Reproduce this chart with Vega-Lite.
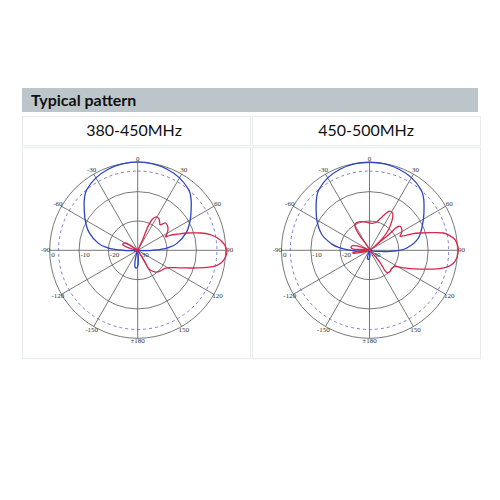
{
  "$schema": "https://vega.github.io/schema/vega-lite/v6.json",
  "padding": {"left": 21, "top": 88, "right": 0, "bottom": 0},
  "background": "white",
  "config": {"concat": {"spacing": 0}, "view": {"stroke": null}},
  "datasets": {
    "rings": [{"r": 10}, {"r": 20}, {"r": 30}],
    "dash": [{"r": 27}],
    "spokes": [
      {"x1": 0, "y1": 30, "x2": 0, "y2": -30},
      {"x1": 15, "y1": 25.98, "x2": -15, "y2": -25.98},
      {"x1": 25.98, "y1": 15, "x2": -25.98, "y2": -15},
      {"x1": 30, "y1": 0, "x2": -30, "y2": 0},
      {"x1": 25.98, "y1": -15, "x2": -25.98, "y2": 15},
      {"x1": 15, "y1": -25.98, "x2": -15, "y2": 25.98}
    ],
    "angles": [
      {"lx": 0, "ly": 31.1, "lab": "0"},
      {"lx": 15.7, "ly": 27.2, "lab": "30"},
      {"lx": 27.2, "ly": 15.7, "lab": "60"},
      {"lx": 31.4, "ly": 0, "lab": "90"},
      {"lx": 27.2, "ly": -15.7, "lab": "120"},
      {"lx": 15.7, "ly": -27.2, "lab": "150"},
      {"lx": 0, "ly": -31.0, "lab": "±180"},
      {"lx": -15.7, "ly": -27.2, "lab": "-150"},
      {"lx": -27.2, "ly": -15.7, "lab": "-120"},
      {"lx": -31.4, "ly": 0, "lab": "-90"},
      {"lx": -27.2, "ly": 15.7, "lab": "-60"},
      {"lx": -15.7, "ly": 27.2, "lab": "-30"}
    ],
    "radial": [
      {"lx": -29.5, "ly": -0.4, "lab": "0"},
      {"lx": -19.5, "ly": -0.4, "lab": "-10"},
      {"lx": -9.5, "ly": -0.4, "lab": "-20"},
      {"lx": 0.6, "ly": -0.4, "lab": "-30"}
    ],
    "left": [
      {"s": "V", "i": 1, "x": 0, "y": 0},
      {"s": "V", "i": 2, "x": -1.0, "y": -0.09},
      {"s": "V", "i": 3, "x": -3.0, "y": -0.1},
      {"s": "V", "i": 4, "x": -5.0, "y": 0},
      {"s": "V", "i": 5, "x": -7.5, "y": 0.26},
      {"s": "V", "i": 6, "x": -10.46, "y": 0.92},
      {"s": "V", "i": 7, "x": -13.39, "y": 2.36},
      {"s": "V", "i": 8, "x": -16.54, "y": 6.02},
      {"s": "V", "i": 9, "x": -17.9, "y": 10.3},
      {"s": "V", "i": 10, "x": -18.27, "y": 15.33},
      {"s": "V", "i": 11, "x": -18.1, "y": 18.1},
      {"s": "V", "i": 12, "x": -17.36, "y": 20.68},
      {"s": "V", "i": 13, "x": -14.25, "y": 24.68},
      {"s": "V", "i": 14, "x": -10.06, "y": 27.63},
      {"s": "V", "i": 15, "x": -5.19, "y": 29.45},
      {"s": "V", "i": 16, "x": 0, "y": 30.1},
      {"s": "V", "i": 17, "x": 5.19, "y": 29.45},
      {"s": "V", "i": 18, "x": 10.06, "y": 27.63},
      {"s": "V", "i": 19, "x": 14.25, "y": 24.68},
      {"s": "V", "i": 20, "x": 17.36, "y": 20.68},
      {"s": "V", "i": 21, "x": 18.1, "y": 18.1},
      {"s": "V", "i": 22, "x": 18.27, "y": 15.33},
      {"s": "V", "i": 23, "x": 17.9, "y": 10.3},
      {"s": "V", "i": 24, "x": 16.54, "y": 6.02},
      {"s": "V", "i": 25, "x": 13.39, "y": 2.36},
      {"s": "V", "i": 26, "x": 10.46, "y": 0.92},
      {"s": "V", "i": 27, "x": 7.5, "y": 0.26},
      {"s": "V", "i": 28, "x": 5.0, "y": 0},
      {"s": "V", "i": 29, "x": 3.0, "y": -0.1},
      {"s": "V", "i": 30, "x": 1.0, "y": -0.09},
      {"s": "V", "i": 31, "x": 0, "y": 0},
      {"s": "V", "i": 32, "x": 0.2, "y": -2.0},
      {"s": "V", "i": 33, "x": 0.1, "y": -5.0},
      {"s": "V", "i": 34, "x": -0.5, "y": -6.1},
      {"s": "V", "i": 35, "x": -1.0, "y": -5.0},
      {"s": "V", "i": 36, "x": -0.6, "y": -2.0},
      {"s": "V", "i": 37, "x": 0, "y": 0},
      {"s": "H", "i": 1, "x": 0, "y": 0},
      {"s": "H", "i": 2, "x": 1.7, "y": 3.6},
      {"s": "H", "i": 3, "x": 2.8, "y": 6.5},
      {"s": "H", "i": 4, "x": 4.0, "y": 9.1},
      {"s": "H", "i": 5, "x": 5.0, "y": 10.6},
      {"s": "H", "i": 6, "x": 6.25, "y": 11.4},
      {"s": "H", "i": 7, "x": 7.2, "y": 10.8},
      {"s": "H", "i": 8, "x": 7.5, "y": 9.5},
      {"s": "H", "i": 9, "x": 7.6, "y": 8.7},
      {"s": "H", "i": 10, "x": 8.5, "y": 9.0},
      {"s": "H", "i": 11, "x": 9.5, "y": 9.3},
      {"s": "H", "i": 12, "x": 10.2, "y": 8.3},
      {"s": "H", "i": 13, "x": 10.3, "y": 6.8},
      {"s": "H", "i": 14, "x": 9.8, "y": 5.2},
      {"s": "H", "i": 15, "x": 9.5, "y": 4.6},
      {"s": "H", "i": 16, "x": 11.0, "y": 5.1},
      {"s": "H", "i": 17, "x": 13.6, "y": 5.5},
      {"s": "H", "i": 18, "x": 17.0, "y": 5.9},
      {"s": "H", "i": 19, "x": 21.6, "y": 5.9},
      {"s": "H", "i": 20, "x": 24.5, "y": 5.4},
      {"s": "H", "i": 21, "x": 27.5, "y": 4.0},
      {"s": "H", "i": 22, "x": 29.5, "y": 2.0},
      {"s": "H", "i": 23, "x": 30.4, "y": 0},
      {"s": "H", "i": 24, "x": 30.0, "y": -2.2},
      {"s": "H", "i": 25, "x": 28.4, "y": -4.3},
      {"s": "H", "i": 26, "x": 25.6, "y": -5.6},
      {"s": "H", "i": 27, "x": 20.5, "y": -6.0},
      {"s": "H", "i": 28, "x": 14.8, "y": -6.0},
      {"s": "H", "i": 29, "x": 10.8, "y": -5.9},
      {"s": "H", "i": 30, "x": 9.0, "y": -6.3},
      {"s": "H", "i": 31, "x": 7.6, "y": -7.1},
      {"s": "H", "i": 32, "x": 6.0, "y": -7.4},
      {"s": "H", "i": 33, "x": 4.5, "y": -6.9},
      {"s": "H", "i": 34, "x": 3.4, "y": -5.8},
      {"s": "H", "i": 35, "x": 2.6, "y": -4.2},
      {"s": "H", "i": 36, "x": 1.6, "y": -2.4},
      {"s": "H", "i": 37, "x": 0.6, "y": -0.9},
      {"s": "H", "i": 38, "x": 0, "y": 0},
      {"s": "H", "i": 39, "x": -1.5, "y": 1.0},
      {"s": "H", "i": 40, "x": -3.5, "y": 2.3},
      {"s": "H", "i": 41, "x": -4.8, "y": 2.4},
      {"s": "H", "i": 42, "x": -5.0, "y": 1.8},
      {"s": "H", "i": 43, "x": -3.5, "y": 1.0},
      {"s": "H", "i": 44, "x": -1.5, "y": 0.3},
      {"s": "H", "i": 45, "x": 0, "y": 0},
      {"s": "H", "i": 46, "x": -1.2, "y": -0.5},
      {"s": "H", "i": 47, "x": 0, "y": 0}
    ],
    "right": [
      {"s": "V", "i": 1, "x": 0, "y": 0},
      {"s": "V", "i": 2, "x": -1.5, "y": -0.3},
      {"s": "V", "i": 3, "x": -4.0, "y": -0.35},
      {"s": "V", "i": 4, "x": -7.7, "y": 0.2},
      {"s": "V", "i": 5, "x": -10.3, "y": 0.9},
      {"s": "V", "i": 6, "x": -12.8, "y": 2.1},
      {"s": "V", "i": 7, "x": -16.2, "y": 5.3},
      {"s": "V", "i": 8, "x": -17.9, "y": 10.0},
      {"s": "V", "i": 9, "x": -18.2, "y": 15.2},
      {"s": "V", "i": 10, "x": -18.0, "y": 18.0},
      {"s": "V", "i": 11, "x": -17.3, "y": 20.6},
      {"s": "V", "i": 12, "x": -14.25, "y": 24.68},
      {"s": "V", "i": 13, "x": -10.06, "y": 27.63},
      {"s": "V", "i": 14, "x": -5.19, "y": 29.45},
      {"s": "V", "i": 15, "x": 0, "y": 30.0},
      {"s": "V", "i": 16, "x": 5.19, "y": 29.45},
      {"s": "V", "i": 17, "x": 10.1, "y": 27.63},
      {"s": "V", "i": 18, "x": 14.4, "y": 24.68},
      {"s": "V", "i": 19, "x": 17.6, "y": 20.6},
      {"s": "V", "i": 20, "x": 18.4, "y": 18.0},
      {"s": "V", "i": 21, "x": 18.6, "y": 15.2},
      {"s": "V", "i": 22, "x": 18.3, "y": 10.0},
      {"s": "V", "i": 23, "x": 16.7, "y": 4.2},
      {"s": "V", "i": 24, "x": 12.7, "y": 0.8},
      {"s": "V", "i": 25, "x": 8.2, "y": -0.3},
      {"s": "V", "i": 26, "x": 4.0, "y": -0.4},
      {"s": "V", "i": 27, "x": 1.5, "y": -0.3},
      {"s": "V", "i": 28, "x": 0, "y": 0},
      {"s": "V", "i": 29, "x": 0.2, "y": -1.5},
      {"s": "V", "i": 30, "x": -0.2, "y": -3.0},
      {"s": "V", "i": 31, "x": -0.7, "y": -2.8},
      {"s": "V", "i": 32, "x": -0.4, "y": -1.2},
      {"s": "V", "i": 33, "x": 0, "y": 0},
      {"s": "H", "i": 1, "x": 0, "y": 0},
      {"s": "H", "i": 2, "x": -3.0, "y": 1.2},
      {"s": "H", "i": 3, "x": -5.5, "y": 1.6},
      {"s": "H", "i": 4, "x": -6.3, "y": 1.0},
      {"s": "H", "i": 5, "x": -5.5, "y": 0.4},
      {"s": "H", "i": 6, "x": -3.0, "y": 0.3},
      {"s": "H", "i": 7, "x": 0, "y": 0},
      {"s": "H", "i": 8, "x": -3.0, "y": -0.3},
      {"s": "H", "i": 9, "x": -5.3, "y": -0.6},
      {"s": "H", "i": 10, "x": -5.5, "y": -1.0},
      {"s": "H", "i": 11, "x": -3.0, "y": -0.7},
      {"s": "H", "i": 12, "x": 0, "y": 0},
      {"s": "H", "i": 13, "x": -1.5, "y": 2.5},
      {"s": "H", "i": 14, "x": -3.2, "y": 4.8},
      {"s": "H", "i": 15, "x": -4.6, "y": 7.2},
      {"s": "H", "i": 16, "x": -5.0, "y": 8.6},
      {"s": "H", "i": 17, "x": -4.2, "y": 9.5},
      {"s": "H", "i": 18, "x": -2.5, "y": 9.8},
      {"s": "H", "i": 19, "x": -0.5, "y": 9.4},
      {"s": "H", "i": 20, "x": 1.0, "y": 9.2},
      {"s": "H", "i": 21, "x": 2.5, "y": 9.7},
      {"s": "H", "i": 22, "x": 4.5, "y": 11.6},
      {"s": "H", "i": 23, "x": 6.3, "y": 13.1},
      {"s": "H", "i": 24, "x": 7.4, "y": 13.2},
      {"s": "H", "i": 25, "x": 8.0, "y": 12.0},
      {"s": "H", "i": 26, "x": 7.5, "y": 9.5},
      {"s": "H", "i": 27, "x": 6.2, "y": 6.5},
      {"s": "H", "i": 28, "x": 4.2, "y": 3.8},
      {"s": "H", "i": 29, "x": 2.0, "y": 1.6},
      {"s": "H", "i": 30, "x": 0.5, "y": 0.3},
      {"s": "H", "i": 31, "x": 3.5, "y": 2.8},
      {"s": "H", "i": 32, "x": 6.5, "y": 5.3},
      {"s": "H", "i": 33, "x": 8.5, "y": 7.2},
      {"s": "H", "i": 34, "x": 10.0, "y": 8.2},
      {"s": "H", "i": 35, "x": 10.9, "y": 7.6},
      {"s": "H", "i": 36, "x": 11.0, "y": 6.0},
      {"s": "H", "i": 37, "x": 10.4, "y": 4.8},
      {"s": "H", "i": 38, "x": 12.0, "y": 5.0},
      {"s": "H", "i": 39, "x": 14.5, "y": 5.6},
      {"s": "H", "i": 40, "x": 17.3, "y": 5.9},
      {"s": "H", "i": 41, "x": 21.0, "y": 6.0},
      {"s": "H", "i": 42, "x": 25.2, "y": 5.9},
      {"s": "H", "i": 43, "x": 27.5, "y": 4.9},
      {"s": "H", "i": 44, "x": 29.2, "y": 3.6},
      {"s": "H", "i": 45, "x": 30.1, "y": 1.5},
      {"s": "H", "i": 46, "x": 30.3, "y": 0},
      {"s": "H", "i": 47, "x": 29.8, "y": -2.5},
      {"s": "H", "i": 48, "x": 28.5, "y": -4.5},
      {"s": "H", "i": 49, "x": 26.4, "y": -5.7},
      {"s": "H", "i": 50, "x": 23.0, "y": -6.3},
      {"s": "H", "i": 51, "x": 19.5, "y": -6.4},
      {"s": "H", "i": 52, "x": 15.0, "y": -6.3},
      {"s": "H", "i": 53, "x": 11.6, "y": -6.0},
      {"s": "H", "i": 54, "x": 8.8, "y": -5.5},
      {"s": "H", "i": 55, "x": 7.5, "y": -6.2},
      {"s": "H", "i": 56, "x": 7.0, "y": -7.2},
      {"s": "H", "i": 57, "x": 6.0, "y": -7.6},
      {"s": "H", "i": 58, "x": 5.2, "y": -6.8},
      {"s": "H", "i": 59, "x": 4.0, "y": -4.8},
      {"s": "H", "i": 60, "x": 2.5, "y": -2.7},
      {"s": "H", "i": 61, "x": 1.0, "y": -1.0},
      {"s": "H", "i": 62, "x": 0, "y": 0}
    ]
  },
  "vconcat": [
    {
      "width": 456,
      "height": 24,
      "view": {"fill": "#bcc6ca", "stroke": null},
      "data": {"values": [{"t": "Typical pattern"}]},
      "mark": {"type": "text", "align": "left", "baseline": "middle", "dx": 9, "dy": 1, "font": "Lato", "fontWeight": "bold", "fontSize": 16, "color": "#111"},
      "encoding": {
        "text": {"field": "t"},
        "x": {"field": "t", "type": "nominal", "axis": null, "scale": {"type": "point", "padding": 0, "align": 0}}
      }
    },
    {
      "vconcat": [
        {
          "hconcat": [
            {
              "width": 228, "height": 29,
              "view": {"stroke": "#d3d8da", "strokeDash": [1, 1]},
              "data": {"values": [{"t": "380-450MHz"}]},
              "mark": {"type": "text", "font": "Lato", "fontSize": 16, "color": "#111", "baseline": "middle", "dx": -2},
              "encoding": {"text": {"field": "t"}}
            },
            {
              "width": 228, "height": 29,
              "view": {"stroke": "#d3d8da", "strokeDash": [1, 1]},
              "data": {"values": [{"t": "450-500MHz"}]},
              "mark": {"type": "text", "font": "Lato", "fontSize": 16, "color": "#111", "baseline": "middle"},
              "encoding": {"text": {"field": "t"}}
            }
          ]
        },
        {
          "hconcat": [
            {
              "width": 228, "height": 211,
              "view": {"stroke": "#d3d8da", "strokeDash": [1, 1]},
              "layer": [
                {
                  "data": {"name": "rings"},
                  "mark": {"type": "arc", "theta": 0, "theta2": 6.2832, "fillOpacity": 0, "stroke": "#555", "strokeWidth": 0.8},
                  "encoding": {
                    "x": {"datum": 0, "type": "quantitative", "scale": {"domain": [-39.45, 38.29], "nice": false, "zero": false}, "axis": null},
                    "y": {"datum": 0, "type": "quantitative", "scale": {"domain": [-36.7, 35.2], "nice": false, "zero": false}, "axis": null},
                    "radius": {"field": "r", "type": "quantitative", "stack": null, "scale": {"type": "linear", "domain": [0, 30], "range": [0, 88], "zero": true}, "legend": null}
                  }
                },
                {
                  "data": {"name": "dash"},
                  "mark": {"type": "arc", "theta": 0, "theta2": 6.2832, "fillOpacity": 0, "stroke": "#5b5bd6", "strokeWidth": 0.8, "strokeDash": [3, 3]},
                  "encoding": {
                    "x": {"datum": 0, "type": "quantitative"},
                    "y": {"datum": 0, "type": "quantitative"},
                    "radius": {"field": "r", "type": "quantitative", "stack": null}
                  }
                },
                {
                  "data": {"name": "spokes"},
                  "mark": {"type": "rule", "color": "#555", "strokeWidth": 0.8},
                  "encoding": {
                    "x": {"field": "x1", "type": "quantitative"},
                    "y": {"field": "y1", "type": "quantitative"},
                    "x2": {"field": "x2"},
                    "y2": {"field": "y2"}
                  }
                },
                {
                  "data": {"name": "angles"},
                  "mark": {"type": "text", "font": "Liberation Serif", "fontSize": 7, "color": "#333", "baseline": "middle"},
                  "encoding": {
                    "x": {"field": "lx", "type": "quantitative"},
                    "y": {"field": "ly", "type": "quantitative"},
                    "text": {"field": "lab"}
                  }
                },
                {
                  "data": {"name": "radial"},
                  "mark": {"type": "text", "font": "Liberation Serif", "fontSize": 7, "color": "#333", "baseline": "top", "align": "left"},
                  "encoding": {
                    "x": {"field": "lx", "type": "quantitative"},
                    "y": {"field": "ly", "type": "quantitative"},
                    "text": {"field": "lab"}
                  }
                },
                {
                  "data": {"name": "left"},
                  "mark": {"type": "line", "strokeWidth": 1.3, "interpolate": "cardinal"},
                  "encoding": {
                    "x": {"field": "x", "type": "quantitative"},
                    "y": {"field": "y", "type": "quantitative"},
                    "order": {"field": "i", "type": "quantitative"},
                    "color": {"field": "s", "type": "nominal", "scale": {"domain": ["V", "H"], "range": ["#2c45c8", "#d9264c"]}, "legend": null}
                  }
                }
              ]
            },
            {
              "width": 228, "height": 211,
              "view": {"stroke": "#d3d8da", "strokeDash": [1, 1]},
              "layer": [
                {
                  "data": {"name": "rings"},
                  "mark": {"type": "arc", "theta": 0, "theta2": 6.2832, "fillOpacity": 0, "stroke": "#555", "strokeWidth": 0.8},
                  "encoding": {
                    "x": {"datum": 0, "type": "quantitative", "scale": {"domain": [-40.06, 37.68], "nice": false, "zero": false}, "axis": null},
                    "y": {"datum": 0, "type": "quantitative", "scale": {"domain": [-36.7, 35.2], "nice": false, "zero": false}, "axis": null},
                    "radius": {"field": "r", "type": "quantitative", "stack": null, "scale": {"type": "linear", "domain": [0, 30], "range": [0, 88], "zero": true}, "legend": null}
                  }
                },
                {
                  "data": {"name": "dash"},
                  "mark": {"type": "arc", "theta": 0, "theta2": 6.2832, "fillOpacity": 0, "stroke": "#5b5bd6", "strokeWidth": 0.8, "strokeDash": [3, 3]},
                  "encoding": {
                    "x": {"datum": 0, "type": "quantitative"},
                    "y": {"datum": 0, "type": "quantitative"},
                    "radius": {"field": "r", "type": "quantitative", "stack": null}
                  }
                },
                {
                  "data": {"name": "spokes"},
                  "mark": {"type": "rule", "color": "#555", "strokeWidth": 0.8},
                  "encoding": {
                    "x": {"field": "x1", "type": "quantitative"},
                    "y": {"field": "y1", "type": "quantitative"},
                    "x2": {"field": "x2"},
                    "y2": {"field": "y2"}
                  }
                },
                {
                  "data": {"name": "angles"},
                  "mark": {"type": "text", "font": "Liberation Serif", "fontSize": 7, "color": "#333", "baseline": "middle"},
                  "encoding": {
                    "x": {"field": "lx", "type": "quantitative"},
                    "y": {"field": "ly", "type": "quantitative"},
                    "text": {"field": "lab"}
                  }
                },
                {
                  "data": {"name": "radial"},
                  "mark": {"type": "text", "font": "Liberation Serif", "fontSize": 7, "color": "#333", "baseline": "top", "align": "left"},
                  "encoding": {
                    "x": {"field": "lx", "type": "quantitative"},
                    "y": {"field": "ly", "type": "quantitative"},
                    "text": {"field": "lab"}
                  }
                },
                {
                  "data": {"name": "right"},
                  "mark": {"type": "line", "strokeWidth": 1.3, "interpolate": "cardinal"},
                  "encoding": {
                    "x": {"field": "x", "type": "quantitative"},
                    "y": {"field": "y", "type": "quantitative"},
                    "order": {"field": "i", "type": "quantitative"},
                    "color": {"field": "s", "type": "nominal", "scale": {"domain": ["V", "H"], "range": ["#2c45c8", "#d9264c"]}, "legend": null}
                  }
                }
              ]
            }
          ]
        }
      ]
    }
  ],
  "spacing": 3
}
